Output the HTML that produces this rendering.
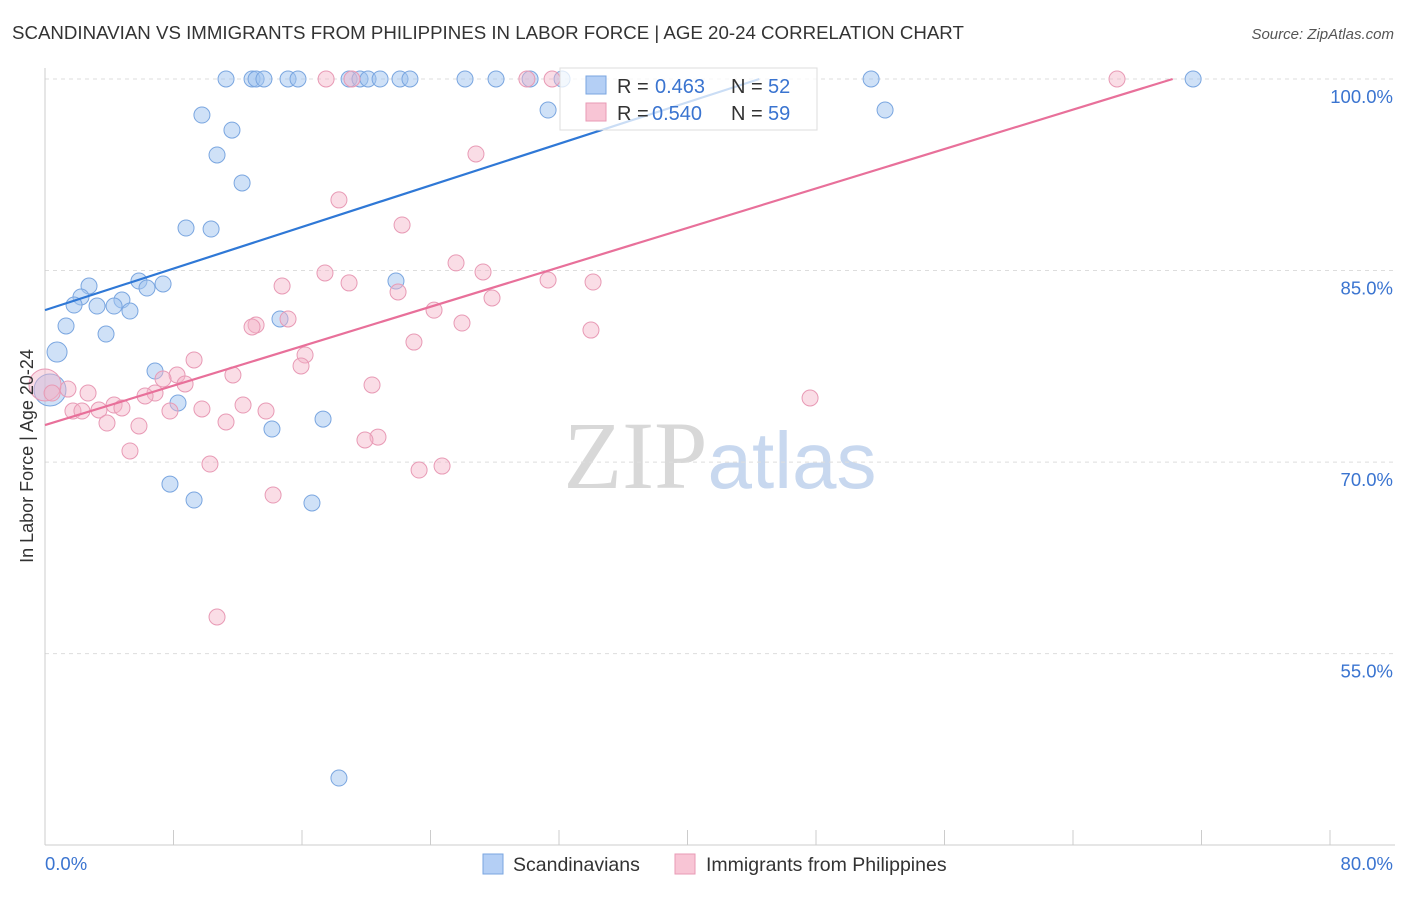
<!DOCTYPE html>
<html><head><meta charset="utf-8">
<style>
body{margin:0;background:#fff;font-family:"Liberation Sans",sans-serif;}
svg text{font-family:"Liberation Sans",sans-serif;}
</style></head>
<body>
<svg id="chart" width="1406" height="892" xmlns="http://www.w3.org/2000/svg">
<text x="12" y="39" font-size="18.7" fill="#333">SCANDINAVIAN VS IMMIGRANTS FROM PHILIPPINES IN LABOR FORCE | AGE 20-24 CORRELATION CHART</text>
<text x="1394" y="39" font-size="15" fill="#555" text-anchor="end" font-style="italic">Source: ZipAtlas.com</text>
<text x="720" y="488" font-size="96" text-anchor="middle"><tspan fill="#d8d8d8" font-family="Liberation Serif">ZIP</tspan><tspan fill="#c8d8ef" font-size="80">atlas</tspan></text>
<g id="grid"></g>
<g id="axes"></g>
<g id="pts"></g>
<g id="lines"></g>
<text transform="translate(33,456) rotate(-90)" font-size="18" fill="#333" text-anchor="middle">In Labor Force | Age 20-24</text>
<g>
<rect x="560" y="68" width="257" height="62" fill="#fff" fill-opacity="0.75" stroke="#ddd"/>
<rect x="586" y="76" width="20" height="18" fill="#b4cff5" stroke="#7aa6e0"/>
<rect x="586" y="103" width="20" height="18" fill="#f8c5d5" stroke="#e89ab5"/>
<text x="617" y="93" font-size="20" fill="#333">R =</text>
<text x="655" y="93" font-size="20" fill="#3a74d0">0.463</text>
<text x="731" y="93" font-size="20" fill="#333">N =</text>
<text x="768" y="93" font-size="20" fill="#3a74d0">52</text>
<text x="617" y="120" font-size="20" fill="#333">R =</text>
<text x="652" y="120" font-size="20" fill="#3a74d0">0.540</text>
<text x="731" y="120" font-size="20" fill="#333">N =</text>
<text x="768" y="120" font-size="20" fill="#3a74d0">59</text>
</g>
<g>
<rect x="483" y="854" width="20" height="20" fill="#b4cff5" stroke="#7aa6e0"/>
<text x="513" y="871" font-size="19.5" fill="#333">Scandinavians</text>
<rect x="675" y="854" width="20" height="20" fill="#f8c5d5" stroke="#e89ab5"/>
<text x="706" y="871" font-size="19.5" fill="#333">Immigrants from Philippines</text>
</g>
</svg>
<script>
const yTicks=[100,85,70,55];
const yTickLabels=["100.0%","85.0%","70.0%","55.0%"];
const xTickLabels=["0.0%","80.0%"];
const blueX=[11.27,12.89,13.14,13.63,15.13,15.75,18.93,19.61,20.11,20.86,22.1,22.72,26.15,28.08,30.2,32.19,51.43,71.48,31.32,52.3,9.77,11.64,10.71,12.27,8.78,10.34,21.85,5.85,7.35,6.35,2.74,2.24,1.81,3.24,4.79,4.3,5.29,14.63,1.31,3.8,0.75,6.85,8.28,0.31,14.13,17.31,7.78,9.28,16.62,18.3];
const blueY=[100,100,100,100,100,100,100,100,100,100,100,100,100,100,100,100,100,100,97.57,97.57,97.18,96.0,94.05,91.86,88.33,88.25,84.18,84.18,83.95,83.63,83.79,82.93,82.3,82.22,82.69,82.22,81.83,81.21,80.66,80.03,78.62,77.13,74.63,75.65,72.59,73.37,68.28,67.03,66.8,45.26];
const blueR=[8,8,8,8,8,8,8,8,8,8,8,8,8,8,8,8,8,8,8,8,8,8,8,8,8,8,8,8,8,8,8,8,8,8,8,8,8,8,8,8,10,8,8,16,8,8,8,8,8,8];
const pinkX=[17.5,19.11,30.0,31.57,66.74,26.83,18.3,22.23,25.59,17.43,27.27,31.32,34.12,18.93,14.76,21.98,27.83,24.22,15.13,13.14,12.89,25.96,33.99,22.97,16.19,15.94,9.28,8.22,7.35,8.72,11.7,20.36,1.43,2.68,6.85,6.23,47.63,4.3,12.33,4.79,3.36,1.74,2.3,9.77,13.76,7.78,11.27,3.86,5.85,20.73,19.92,5.29,10.27,24.72,23.29,14.2,10.71,0,0.44];
const pinkY=[100,100,100,100,100,94.13,90.53,88.57,85.6,84.81,84.89,84.26,84.1,84.03,83.79,83.32,82.85,81.9,81.21,80.74,80.58,80.89,80.34,79.4,78.39,77.53,78.0,76.82,76.51,76.12,76.82,76.04,75.72,75.41,75.41,75.18,75.02,74.47,74.47,74.24,74.08,74.0,74.0,74.16,74.0,74.0,73.14,73.06,72.83,71.96,71.73,70.87,69.85,69.69,69.38,67.42,57.87,76.04,75.41];
const blueLine=[81.9,0.407];
const pinkLine=[72.9,0.386];
const NS="http://www.w3.org/2000/svg";
const sx=v=>45+v/80*1285;
const sy=v=>79+(100-v)*12.77;
function mk(tag,attrs,parent){const e=document.createElementNS(NS,tag);for(const k in attrs)e.setAttribute(k,attrs[k]);parent.appendChild(e);return e;}
const grid=document.getElementById('grid'),axes=document.getElementById('axes'),pts=document.getElementById('pts'),lines=document.getElementById('lines');
yTicks.forEach((t,i)=>{
 const l=mk('line',{x1:45,x2:1395,y1:sy(t),y2:sy(t),stroke:'#ddd','stroke-dasharray':'4,4'},grid);
 
 
 const tx=mk('text',{x:1393,y:sy(t)+24,'font-size':18.5,fill:'#3a74d0','text-anchor':'end'},axes);
 tx.textContent=yTickLabels[i];
 
 
});
const ax=mk('line',{x1:45,x2:45,y1:68,y2:845,stroke:'#ccc'},axes);


const bx=mk('line',{x1:45,x2:1395,y1:845,y2:845,stroke:'#ccc'},axes);


for(let i=0;i<=10;i++){
 const t=mk('line',{x1:sx(i*8),x2:sx(i*8),y1:830,y2:845,stroke:'#ccc'},axes);
 
 
}
[[0,'start',45],[80,'end',1393]].forEach((d,i)=>{
 const t=mk('text',{x:d[2],y:870,'font-size':18.5,fill:'#3a74d0','text-anchor':d[1]},axes);
 t.textContent=xTickLabels[i];
 
 
});
blueX.forEach((x,i)=>{
 const c=mk('circle',{cx:sx(x),cy:sy(blueY[i]),r:blueR[i],fill:'rgba(160,195,240,0.5)',stroke:'#7aa6e0','stroke-width':1},pts);
 
 
});
pinkX.forEach((x,i)=>{
 const c=mk('circle',{cx:sx(x),cy:sy(pinkY[i]),r:(x===0?16:8),fill:'rgba(245,180,200,0.45)',stroke:'#e89ab5','stroke-width':1},pts);
 
 
});
function trend(p,col,name){
 const x2=(100-p[0])/p[1];
 const l=mk('line',{x1:sx(0),y1:sy(p[0]),x2:sx(x2),y2:sy(100),stroke:col,'stroke-width':2.2},lines);
 
 
}
trend(blueLine,'#2f78d6','scandinavian-trendline');
trend(pinkLine,'#e8709a','philippines-trendline');
</script>
</body></html>
